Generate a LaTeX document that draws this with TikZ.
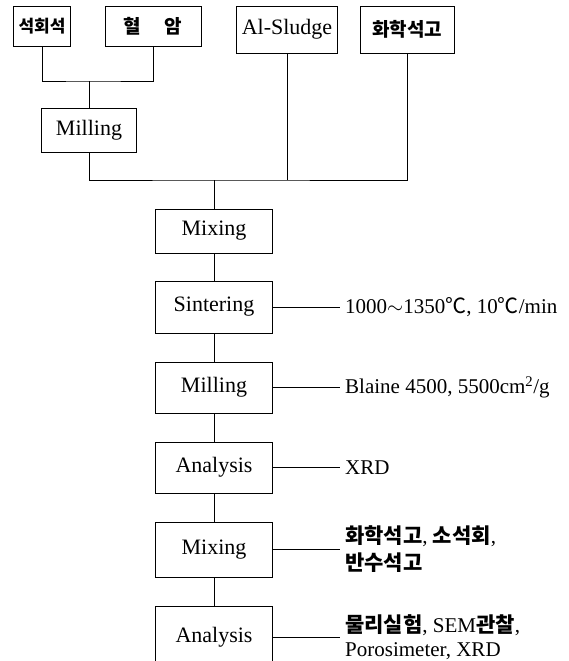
\documentclass[tikz,border=0pt]{standalone}
\usepackage{fontspec}
\setmainfont{Liberation Serif}
\newfontfamily\kr{Noto Sans CJK KR}
\usetikzlibrary{calc}

\begin{document}
\begin{tikzpicture}[x=1pt,y=-1pt,
  StepBox/.style={draw,line width=0.9pt,inner sep=0pt,font=\fontsize{22}{24}\selectfont},
  NoteText/.style={anchor=west,inner xsep=5pt,inner ysep=0pt,align=left,font=\fontsize{21}{24}\selectfont},
  Wire/.style={line width=0.9pt}]
\clip (0,0) rectangle (569,661);

\node[StepBox,minimum width=57,minimum height=40] (Lime) at (42,26) {\kr\bfseries\fontsize{17}{20}\selectfont 석회석};
\node[StepBox,minimum width=96,minimum height=40] (Shale) at (153,26) {\kr\bfseries\fontsize{19}{20}\selectfont 혈\hspace{24pt}암};
\node[StepBox,minimum width=101,minimum height=47] (Sludge) at (287,29.5) {Al-Sludge};
\node[StepBox,minimum width=94,minimum height=47] (Gypsum) at (407,29.5) {\kr\bfseries\fontsize{19}{20}\selectfont 화학석고};
\node[StepBox,minimum width=95,minimum height=44] (MillA) at (89,130) {Milling};

\coordinate (Split) at (89,81);
\coordinate (Merge) at (214,180);

\node[StepBox,minimum width=117,minimum height=44] (MixA) at (214,231) {Mixing};
\node[StepBox,minimum width=117,minimum height=52] (Sinter) at (214,307) {Sintering};
\node[StepBox,minimum width=117,minimum height=51] (MillB) at (214,387.5) {Milling};
\node[StepBox,minimum width=117,minimum height=51] (AnaA) at (214,467.5) {Analysis};
\node[StepBox,minimum width=117,minimum height=55] (MixB) at (214,549.5) {Mixing};
\node[StepBox,minimum width=117,minimum height=62] (AnaB) at (214,637) {Analysis};

\node[NoteText] (SinterNote) at (340,307) {1000$\sim$1350{\kr ℃}, 10{\kr ℃}/min};
\node[NoteText] (MillNote) at (340,387.5) {Blaine 4500, 5500cm\textsuperscript{2}/g};
\node[NoteText] (AnaNote) at (340,467.5) {XRD};
\node[NoteText] (MixNote) at (340,549.5) {{\kr\bfseries 화학석고}, {\kr\bfseries 소석회},\\[3pt]{\kr\bfseries 반수석고}};
\node[NoteText] (TestNote) at (340,637) {{\kr\bfseries 물리실험}, SEM{\kr\bfseries 관찰},\\Porosimeter, XRD};

\draw[Wire] (Lime.south) |- (Split) -| (Shale.south);
\draw[Wire] (Split) -- (MillA.north);
\draw[Wire] (MillA.south) |- (Merge) -| (Gypsum.south);
\draw[Wire] (Sludge.south) -- (Sludge.south |- Merge);
\draw[Wire] (Merge) -- (MixA.north);

\draw[Wire] (MixA) -- (Sinter) -- (MillB) -- (AnaA) -- (MixB) -- (AnaB);

\draw[Wire] (Sinter.east) -- (SinterNote.west);
\draw[Wire] (MillB.east) -- (MillNote.west);
\draw[Wire] (AnaA.east) -- (AnaNote.west);
\draw[Wire] (MixB.east) -- (MixNote.west);
\draw[Wire] (AnaB.east) -- (TestNote.west);

\end{tikzpicture}
\end{document}
